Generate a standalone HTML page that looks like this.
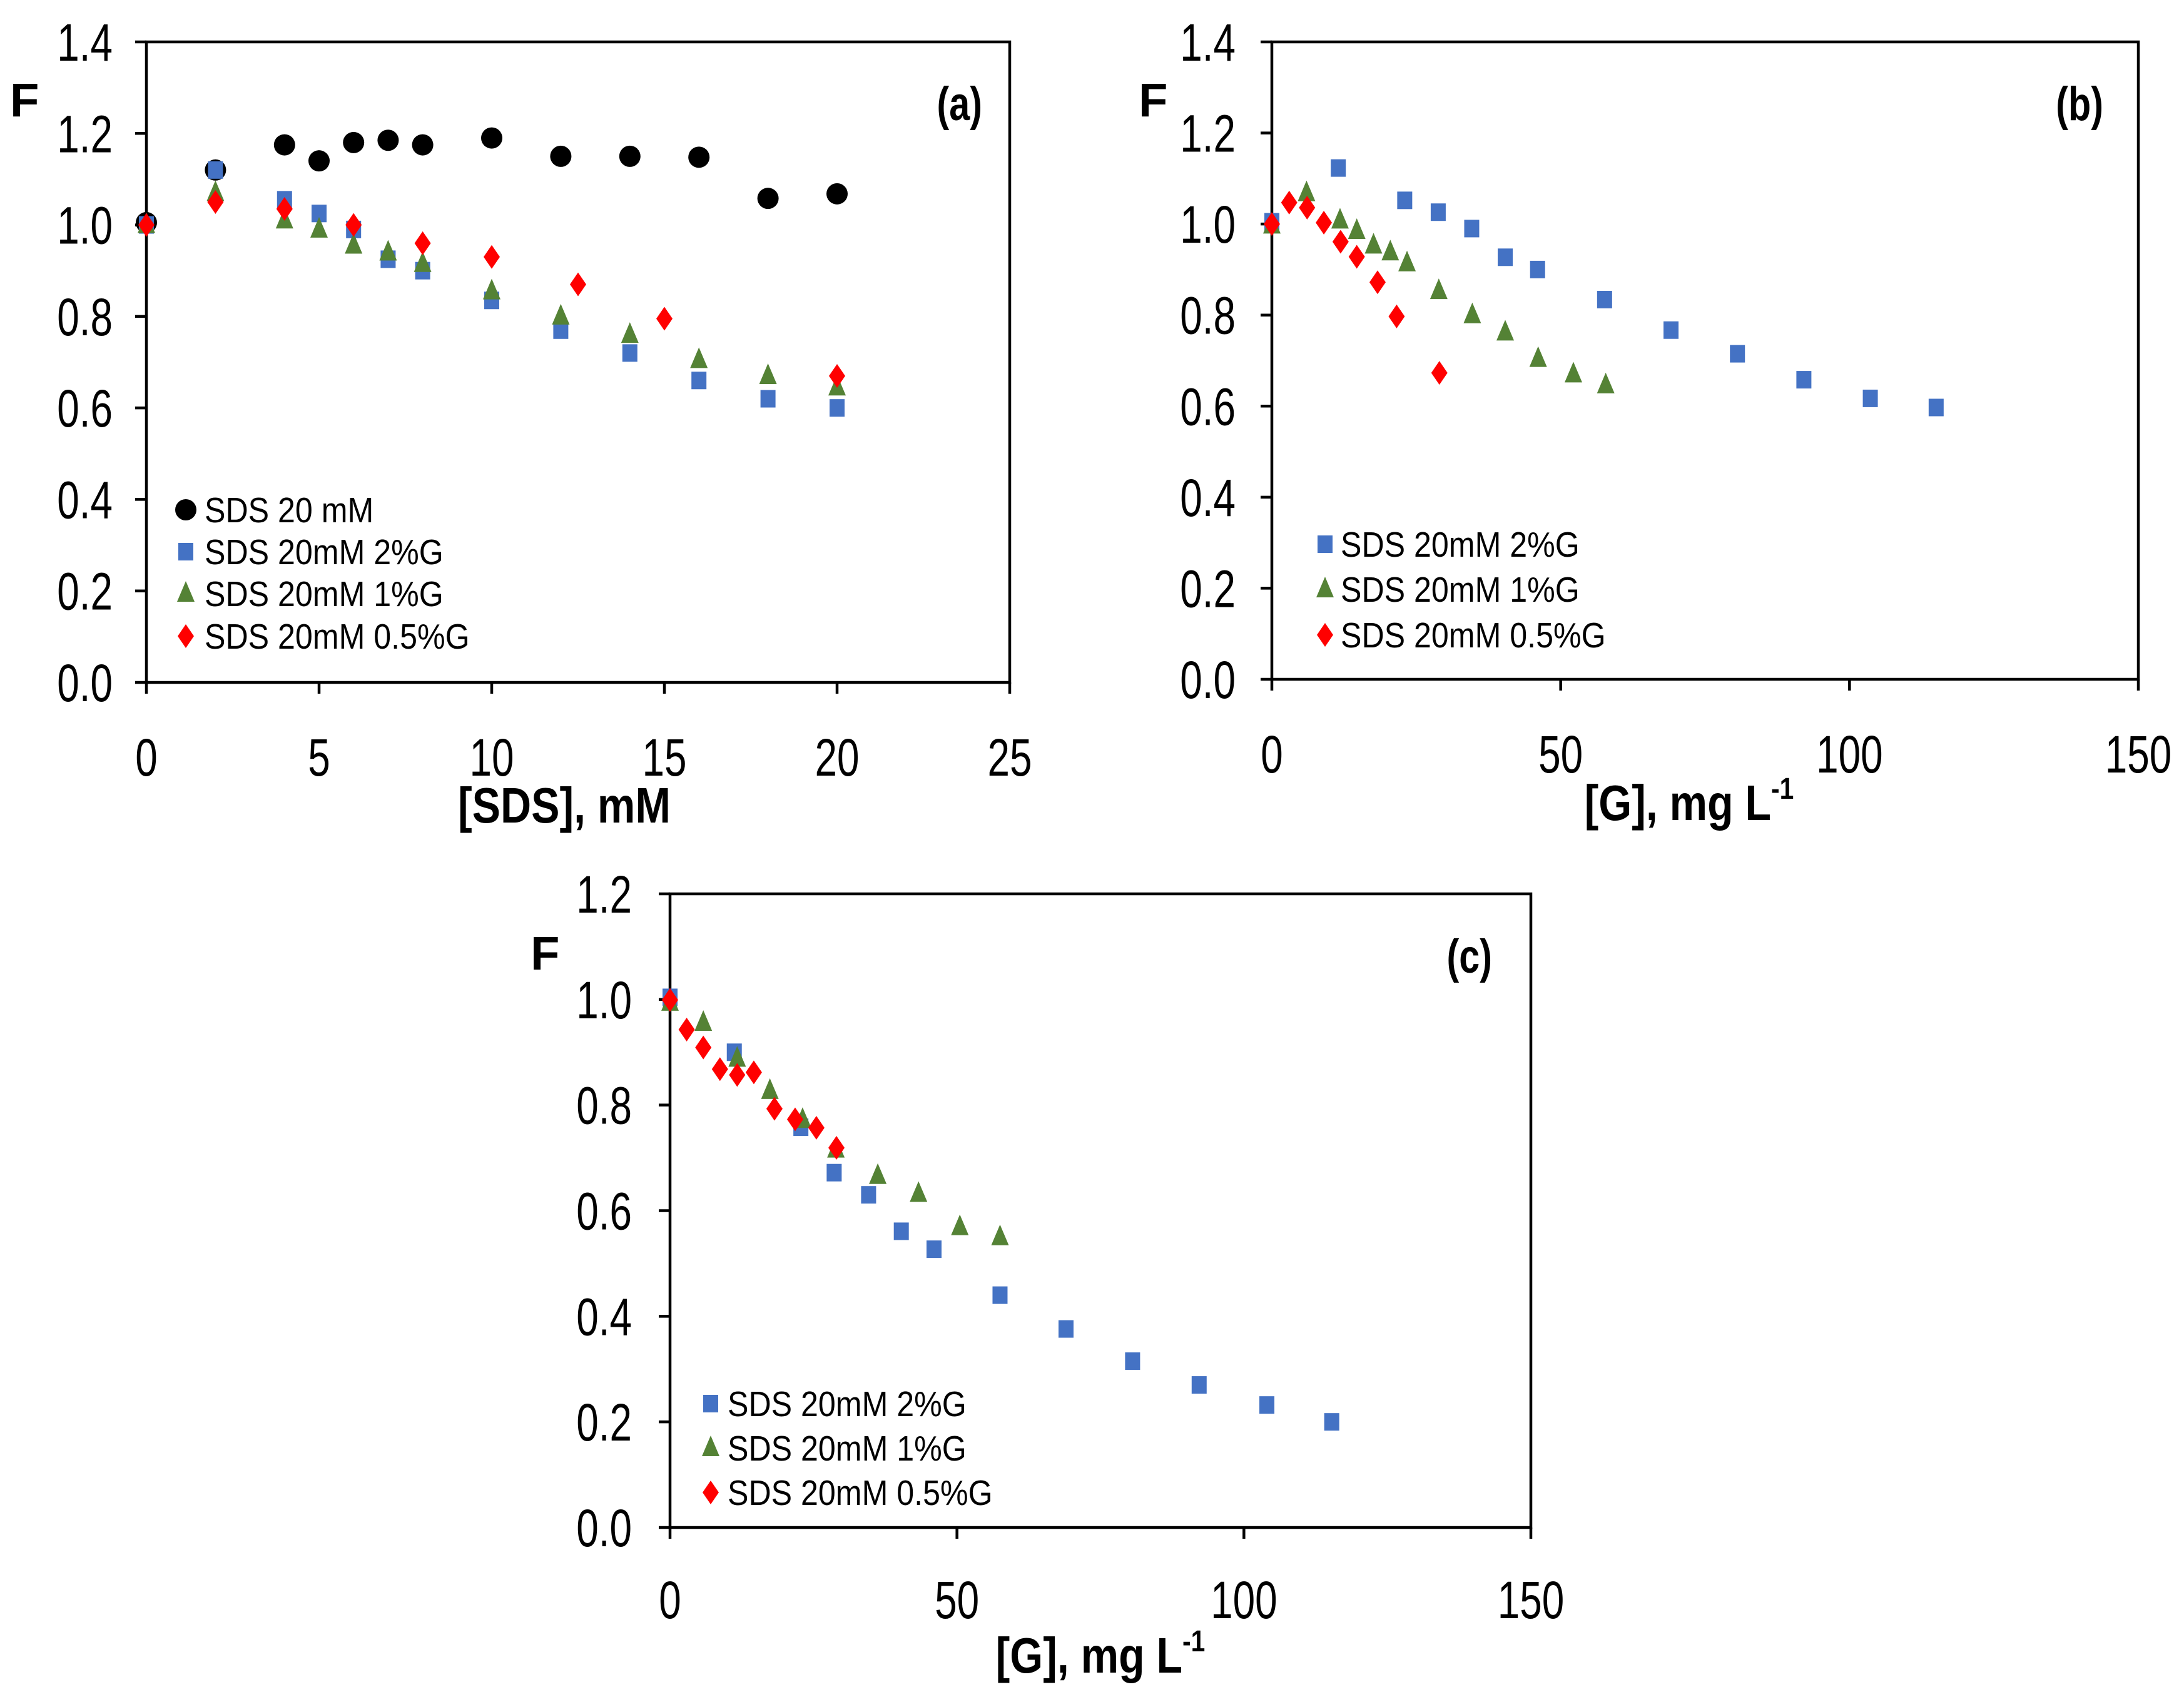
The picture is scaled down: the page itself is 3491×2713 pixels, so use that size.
<!DOCTYPE html>
<html><head><meta charset="utf-8"><style>
html,body{margin:0;padding:0;background:#fff;}
svg{display:block;font-family:"Liberation Sans",sans-serif;}
</style></head><body>
<svg id="fig" width="3491" height="2713" viewBox="0 0 3491 2713" xmlns="http://www.w3.org/2000/svg"></svg>
<script>
// Panel (a) data
const aX_circle=[0,2,4,5,6,7,8,10,12,14,16,18,20];
const aY_circle=[1.005,1.12,1.175,1.14,1.18,1.185,1.175,1.19,1.15,1.15,1.148,1.058,1.068];
const aX_sq=[0,2,4,5,6,7,8,10,12,14,16,18,20];
const aY_sq=[1.0,1.12,1.055,1.025,0.99,0.925,0.9,0.835,0.77,0.72,0.66,0.62,0.6];
const aX_tri=[0,2,4,5,6,7,8,10,12,14,16,18,20];
const aY_tri=[1.0,1.07,1.01,0.99,0.955,0.94,0.915,0.855,0.8,0.76,0.705,0.67,0.645];
const aX_dia=[0,2,4,6,8,10,12.5,15,20];
const aY_dia=[1.0,1.05,1.035,1.0,0.96,0.93,0.87,0.795,0.67];
// Panel (b) data
const bX_sq=[0,11.5,23,28.8,34.6,40.4,46,57.6,69.1,80.6,92.1,103.6,115];
const bY_sq=[1.005,1.123,1.052,1.026,0.99,0.927,0.9,0.834,0.767,0.715,0.658,0.617,0.597];
const bX_tri=[0,6,11.8,14.7,17.6,20.5,23.4,28.9,34.7,40.4,46.1,52.2,57.8];
const bY_tri=[0.997,1.068,1.008,0.985,0.953,0.938,0.914,0.853,0.8,0.762,0.704,0.67,0.646];
const bX_dia=[0,3,6.1,9,11.9,14.7,18.3,21.6,29];
const bY_dia=[1.0,1.047,1.036,1.003,0.961,0.928,0.872,0.797,0.673];
// Panel (c) data
const cX_sq=[0,11.2,22.8,28.6,34.6,40.3,46,57.5,69,80.6,92.2,104,115.3];
const cY_sq=[1.004,0.9,0.758,0.672,0.63,0.561,0.527,0.44,0.376,0.315,0.27,0.232,0.2];
const cX_tri=[0,5.8,11.7,17.4,23.1,28.9,36.2,43.3,50.5,57.5];
const cY_tri=[0.994,0.956,0.888,0.827,0.772,0.716,0.666,0.632,0.569,0.55];
const cX_dia=[0,2.9,5.8,8.7,11.7,14.6,18.2,21.8,25.5,29];
const cY_dia=[0.999,0.943,0.909,0.868,0.857,0.862,0.793,0.773,0.757,0.719];
// ticks
const aXTicks=[0,5,10,15,20,25];
const gXTicks=[0,50,100,150];
const yTicks14=["0.0","0.2","0.4","0.6","0.8","1.0","1.2","1.4"];
const yTicks12=["0.0","0.2","0.4","0.6","0.8","1.0","1.2"];
const legA=["SDS 20 mM","SDS 20mM 2%G","SDS 20mM 1%G","SDS 20mM 0.5%G"];
const legG=["SDS 20mM 2%G","SDS 20mM 1%G","SDS 20mM 0.5%G"];

const NS="http://www.w3.org/2000/svg";
const svg=document.getElementById('fig');
function mk(tag,attrs,parent){const e=document.createElementNS(NS,tag);for(const k in attrs)e.setAttribute(k,attrs[k]);(parent||svg).appendChild(e);return e;}
const COL={circle:"#000000",sq:"#4472C4",tri:"#548235",dia:"#FF0000"};

function marker(g,type,x,y,name){
  let e;
  if(type==='circle'){e=mk('circle',{cx:x,cy:y,r:17,fill:COL.circle},g);}
  else if(type==='sq'){e=mk('rect',{x:x-12,y:y-14,width:24,height:28,fill:COL.sq},g);}
  else if(type==='tri'){e=mk('polygon',{points:`${x},${y-20} ${x+14},${y+13} ${x-14},${y+13}`,fill:COL.tri},g);}
  else {e=mk('polygon',{points:`${x},${y-19} ${x+13},${y} ${x},${y+19} ${x-13},${y}`,fill:COL.dia},g);}
  
  
  return e;
}
function sc(x,s){return `translate(${x},0) scale(${s},1) translate(${-x},0)`;}

function panel(cfg){
  const g=mk('g',{});
  
  
  const sx=v=>cfg.x0+(v-cfg.xmin)/(cfg.xmax-cfg.xmin)*(cfg.x1-cfg.x0);
  const sy=v=>cfg.y0-(v-0)/(cfg.ymax)*(cfg.y0-cfg.y1);
  const frame=mk('rect',{x:cfg.x0,y:cfg.y1,width:cfg.x1-cfg.x0,height:cfg.y0-cfg.y1,fill:'none',stroke:'#000','stroke-width':4.5},g);
  
  
  cfg.xticks.forEach(t=>{
    const x=sx(t);
    const tk=mk('line',{x1:x,x2:x,y1:cfg.y0,y2:cfg.y0+18,stroke:'#000','stroke-width':4.5},g);
    
    
    const lb=mk('text',{x:x,y:cfg.xlabY,'text-anchor':'middle','font-size':84,transform:sc(x,0.76)},g);
    lb.textContent=String(t);
    
    
  });
  cfg.yticks.forEach(s=>{
    const v=parseFloat(s);const y=sy(v);
    const tk=mk('line',{x1:cfg.x0-18,x2:cfg.x0,y1:y,y2:y,stroke:'#000','stroke-width':4.5},g);
    
    
    const lb=mk('text',{x:cfg.ylabX,y:y+30,'text-anchor':'end','font-size':84,transform:sc(cfg.ylabX,0.76)},g);
    lb.textContent=s;
    
    
  });
  cfg.series.forEach(s=>{
    s.xs.forEach((xv,i)=>marker(g,s.type,sx(xv),sy(s.ys[i]),s.name+'-point'));
  });
  cfg.legend.forEach((txt,i)=>{
    const y=cfg.legY[i];
    marker(g,cfg.legTypes[i],cfg.legMX,y,'legend-marker');
    const t=mk('text',{x:cfg.legTX,y:y+20,'font-size':57,transform:sc(cfg.legTX,0.88)},g);
    t.textContent=txt;
    
    
  });
  const F=mk('text',{x:cfg.fX,y:cfg.fY,'font-size':76,'font-weight':'bold'},g);
  F.textContent='F';
  
  
  const pl=mk('text',{x:cfg.plX,y:cfg.plY,'font-size':76,'font-weight':'bold','text-anchor':'end',transform:sc(cfg.plX,0.78)},g);
  pl.textContent=cfg.plabel;
  
  
  const xt=mk('text',{x:cfg.xtX,y:cfg.xtY,'font-size':80,'font-weight':'bold','text-anchor':'middle',transform:sc(cfg.xtX,0.85)},g);
  
  
  if(cfg.sup){
    xt.appendChild(document.createTextNode(cfg.xtitle));
    const ts=mk('tspan',{'font-size':48,dy:-34},xt);ts.textContent='-1';
  } else xt.textContent=cfg.xtitle;
}

panel({name:'panel-a',x0:234,x1:1614,y0:1091,y1:67,xmin:0,xmax:25,ymax:1.4,
  xticks:aXTicks,yticks:yTicks14,xlabY:1240,ylabX:180,
  series:[{type:'circle',xs:aX_circle,ys:aY_circle,name:'sds-20mm'},
          {type:'sq',xs:aX_sq,ys:aY_sq,name:'sds-2g'},
          {type:'tri',xs:aX_tri,ys:aY_tri,name:'sds-1g'},
          {type:'dia',xs:aX_dia,ys:aY_dia,name:'sds-05g'}],
  legend:legA,legTypes:['circle','sq','tri','dia'],legY:[815,882,949,1017],legMX:297,legTX:327,
  fX:16,fY:186,plX:1570,plY:192,plabel:'(a)',xtX:902,xtY:1315,xtitle:'[SDS], mM',sup:false});

panel({name:'panel-b',x0:2033,x1:3418,y0:1086,y1:67,xmin:0,xmax:150,ymax:1.4,
  xticks:gXTicks,yticks:yTicks14,xlabY:1235,ylabX:1975,
  series:[{type:'sq',xs:bX_sq,ys:bY_sq,name:'sds-2g'},
          {type:'tri',xs:bX_tri,ys:bY_tri,name:'sds-1g'},
          {type:'dia',xs:bX_dia,ys:bY_dia,name:'sds-05g'}],
  legend:legG,legTypes:['sq','tri','dia'],legY:[870,942,1015],legMX:2118,legTX:2143,
  fX:1820,fY:186,plX:3362,plY:192,plabel:'(b)',xtX:2700,xtY:1311,xtitle:'[G], mg L',sup:true});

panel({name:'panel-c',x0:1071,x1:2447,y0:2442,y1:1429,xmin:0,xmax:150,ymax:1.2,
  xticks:gXTicks,yticks:yTicks12,xlabY:2587,ylabX:1010,
  series:[{type:'sq',xs:cX_sq,ys:cY_sq,name:'sds-2g'},
          {type:'tri',xs:cX_tri,ys:cY_tri,name:'sds-1g'},
          {type:'dia',xs:cX_dia,ys:cY_dia,name:'sds-05g'}],
  legend:legG,legTypes:['sq','tri','dia'],legY:[2244,2315,2386],legMX:1136,legTX:1163,
  fX:848,fY:1550,plX:2385,plY:1555,plabel:'(c)',xtX:1759,xtY:2674,xtitle:'[G], mg L',sup:true});
</script>
</body></html>
